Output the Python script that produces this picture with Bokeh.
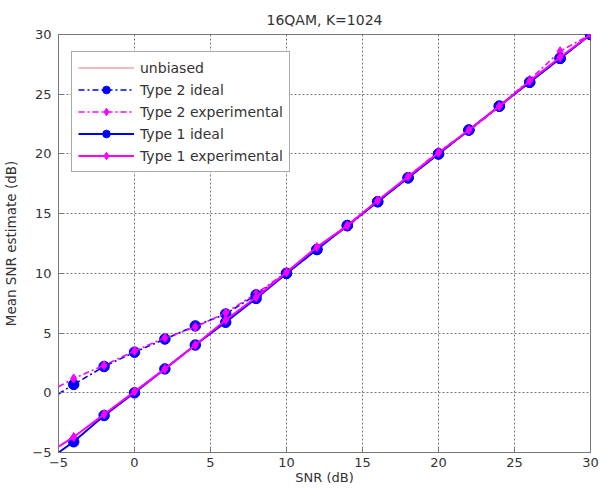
from bokeh.plotting import figure
from bokeh.models import Legend, LegendItem, FixedTicker
from bokeh.embed import file_html
from bokeh.resources import INLINE

# SNR grid (dB); the first point only carries the lines to the left edge
snr = [-5, -4, -2, 0, 2, 4, 6, 8, 10, 12, 14, 16, 18, 20, 22, 24, 26, 28, 30]
unbiased = snr[:]
type2_ideal = [-0.1, 0.7, 2.2, 3.4, 4.5, 5.6, 6.6, 8.2, 10.0, 12.0, 14.0, 16.0,
               18.0, 20.0, 22.0, 24.0, 26.0, 28.0, 30.0]
type2_exp = [0.5, 1.2, 2.3, 3.5, 4.6, 5.5, 6.7, 8.3, 10.1, 12.1, 13.9, 16.0,
             18.1, 20.2, 21.9, 24.0, 26.2, 28.6, 30.0]
type1_ideal = [-5.0, -4.1, -1.9, 0.0, 2.0, 4.0, 5.9, 7.9, 10.0, 12.0, 14.0,
               16.0, 18.0, 20.0, 22.0, 24.0, 26.0, 28.0, 30.0]
type1_exp = [-4.5, -3.7, -1.8, 0.1, 2.0, 4.0, 6.1, 8.0, 10.1, 12.2, 14.0,
             16.1, 18.1, 20.1, 22.0, 24.0, 26.1, 28.1, 30.0]
ticks = [-5, 0, 5, 10, 15, 20, 25, 30]

BLUE = "#0000ff"
MAGENTA = "#ff00ff"
FONT = "DejaVu Sans"
TXT = "#333333"

p = figure(width=601, height=488, x_range=(-5, 30), y_range=(-5, 30),
           output_backend="svg", toolbar_location=None,
           min_border_left=57, min_border_right=11,
           min_border_top=34, min_border_bottom=36)

p.title.text = "16QAM, K=1024"
p.title.align = "center"
p.title.text_font = FONT
p.title.text_font_size = "14px"
p.title.text_font_style = "normal"
p.title.text_color = TXT
p.title.standoff = 13

for ax in (p.xaxis[0], p.yaxis[0]):
    ax.ticker = FixedTicker(ticks=ticks)
    ax.major_tick_in = 5
    ax.major_tick_out = 0
    ax.minor_tick_line_color = None
    ax.axis_line_color = "#777777"
    ax.major_tick_line_color = "#777777"
    ax.major_label_text_font = FONT
    ax.major_label_text_font_size = "13px"
    ax.major_label_text_color = TXT
p.xaxis.major_label_standoff = 5
p.yaxis.major_label_standoff = 7

p.xaxis.axis_label = "SNR (dB)"
p.xaxis.axis_label_standoff = 0
p.yaxis.axis_label = "Mean SNR estimate (dB)"
p.yaxis.axis_label_standoff = 10
for ax in (p.xaxis[0], p.yaxis[0]):
    ax.axis_label_text_font = FONT
    ax.axis_label_text_font_size = "13.5px"
    ax.axis_label_text_font_style = "normal"
    ax.axis_label_text_color = TXT
p.xaxis.axis_label_text_font_size = "13px"

p.outline_line_color = "#777777"
p.grid.grid_line_color = "#333333"
p.grid.grid_line_alpha = 0.65
p.grid.grid_line_dash = "2 2"
p.grid.grid_line_width = 1

# curves
r_unb = p.line(snr, unbiased, line_color="#e8708a", line_width=1)

r2i_l = p.line(snr, type2_ideal, line_color=BLUE, line_width=1.6, line_dash="6 3 2 3")
r2i_m = p.scatter(snr[1:], type2_ideal[1:], marker="circle", size=10.5,
                  fill_color=BLUE, line_color=BLUE)
r2e_l = p.line(snr, type2_exp, line_color=MAGENTA, line_width=1.6, line_dash="6 3 2 3")
r2e_m = p.scatter(snr[1:], type2_exp[1:], marker="diamond", size=9,
                  fill_color=MAGENTA, line_color=MAGENTA)

r1i_l = p.line(snr, type1_ideal, line_color=BLUE, line_width=2)
r1i_m = p.scatter(snr[1:], type1_ideal[1:], marker="circle", size=10.5,
                  fill_color=BLUE, line_color=BLUE)
r1e_l = p.line(snr, type1_exp, line_color=MAGENTA, line_width=2)
r1e_m = p.scatter(snr[1:], type1_exp[1:], marker="diamond", size=9,
                  fill_color=MAGENTA, line_color=MAGENTA)

legend = Legend(items=[
    LegendItem(label="unbiased", renderers=[r_unb]),
    LegendItem(label="Type 2 ideal", renderers=[r2i_l, r2i_m]),
    LegendItem(label="Type 2 experimental", renderers=[r2e_l, r2e_m]),
    LegendItem(label="Type 1 ideal", renderers=[r1i_l, r1i_m]),
    LegendItem(label="Type 1 experimental", renderers=[r1e_l, r1e_m]),
], location=(13, 280))
legend.label_text_font = FONT
legend.label_text_font_size = "14px"
legend.label_text_color = TXT
legend.glyph_width = 56
legend.glyph_height = 19
legend.label_height = 19
legend.label_standoff = 6
legend.spacing = 3
legend.padding = 6
legend.margin = 0
legend.border_line_color = "#555555"
legend.border_line_width = 1
legend.background_fill_alpha = 1
p.add_layout(legend, "center")

open("out.html", "w").write(file_html(p, INLINE))
